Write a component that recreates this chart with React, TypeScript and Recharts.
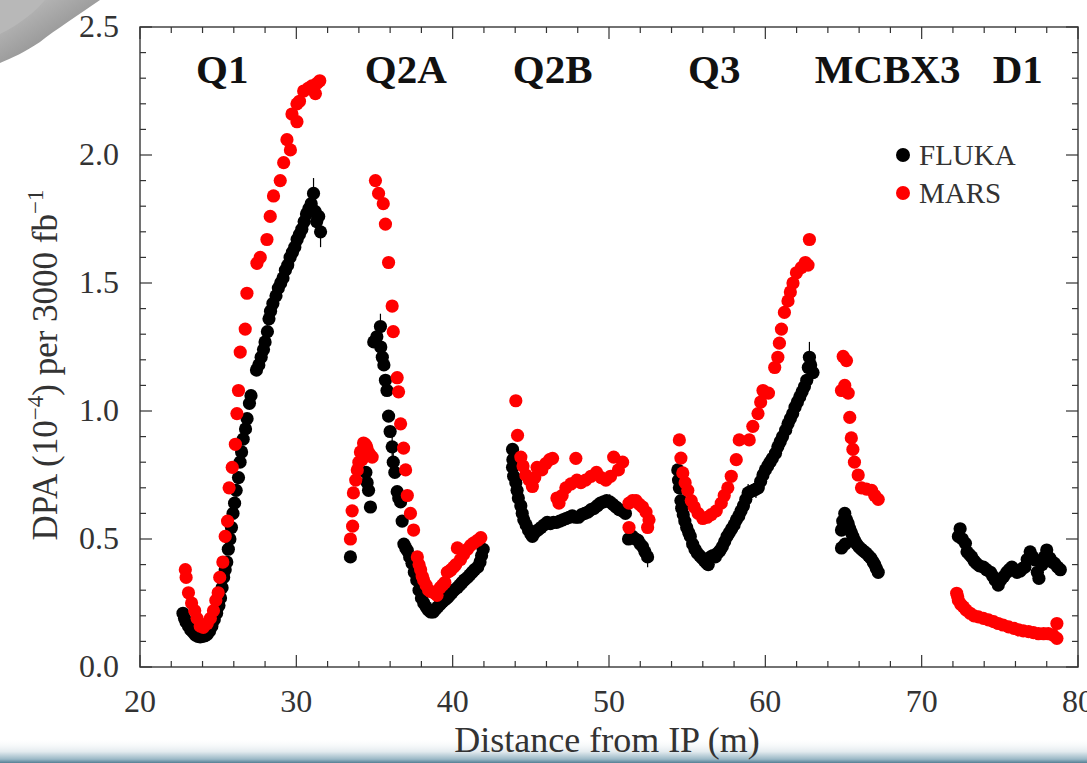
import React from 'react';
import {
  ScatterChart,
  Scatter,
  XAxis,
  YAxis,
  ReferenceArea,
  ReferenceDot,
  ErrorBar,
  Legend,
} from 'recharts';

// DPA along the triplet, [distance from IP (m), DPA (1e-4) per 3000 fb^-1]
const flukaQ1 = [
  [22.75, 0.21], [22.85, 0.19], [22.95, 0.175], [23.1, 0.16], [23.25, 0.145], [23.4, 0.135],
  [23.55, 0.125], [23.7, 0.12], [23.85, 0.118], [24.0, 0.12], [24.15, 0.122], [24.3, 0.128],
  [24.45, 0.14], [24.6, 0.16], [24.75, 0.185], [24.9, 0.21], [25.05, 0.24], [25.15, 0.27],
  [25.25, 0.31], [25.35, 0.35], [25.45, 0.38], [25.55, 0.41], [25.65, 0.46], [25.75, 0.5],
  [25.85, 0.545], [25.95, 0.6], [26.05, 0.64], [26.15, 0.69], [26.3, 0.74], [26.4, 0.8],
  [26.5, 0.84], [26.6, 0.89], [26.75, 0.93], [26.85, 0.97], [27.0, 1.03], [27.1, 1.06],
  [27.45, 1.16], [27.6, 1.18], [27.75, 1.21], [27.9, 1.24], [28.0, 1.27], [28.15, 1.31],
  [28.25, 1.36], [28.35, 1.39], [28.5, 1.42], [28.7, 1.45], [28.85, 1.48], [29.0, 1.5],
  [29.15, 1.52], [29.3, 1.55], [29.45, 1.57], [29.6, 1.6], [29.75, 1.62], [29.9, 1.64],
  [30.05, 1.67], [30.2, 1.69], [30.35, 1.71], [30.5, 1.74], [30.65, 1.77], [30.8, 1.79],
  [30.95, 1.81], [31.1, 1.85], [31.2, 1.78], [31.3, 1.74], [31.43, 1.76], [31.55, 1.7],
];

const flukaQ2A = [
  [33.46, 0.43], [34.45, 0.76], [34.53, 0.72], [34.62, 0.69], [34.74, 0.625],
  [34.95, 1.27], [35.15, 1.29], [35.38, 1.33], [35.4, 1.25], [35.5, 1.21], [35.6, 1.18],
  [35.7, 1.12], [35.8, 1.08], [35.9, 0.98], [36.0, 0.92], [36.13, 0.86], [36.2, 0.8],
  [36.3, 0.76], [36.45, 0.685], [36.55, 0.66], [36.67, 0.645], [36.77, 0.57], [36.88, 0.48],
  [37.0, 0.465], [37.1, 0.455], [37.25, 0.43], [37.4, 0.405], [37.55, 0.37], [37.7, 0.34],
  [37.85, 0.3], [38.0, 0.27], [38.15, 0.25], [38.3, 0.235], [38.45, 0.222], [38.6, 0.215],
  [38.75, 0.215], [38.9, 0.225], [39.05, 0.235], [39.2, 0.245], [39.35, 0.255], [39.5, 0.262],
  [39.65, 0.27], [39.8, 0.28], [39.95, 0.29], [40.1, 0.3], [40.3, 0.31], [40.45, 0.32],
  [40.6, 0.33], [40.75, 0.34], [40.95, 0.35], [41.1, 0.36], [41.25, 0.37], [41.4, 0.38],
  [41.6, 0.39], [41.75, 0.41], [41.85, 0.435], [41.95, 0.46],
];

const flukaQ2B = [
  [43.83, 0.85], [43.85, 0.81], [43.83, 0.78], [43.9, 0.745], [44.04, 0.72], [44.12, 0.69],
  [44.2, 0.66], [44.36, 0.63], [44.45, 0.6], [44.55, 0.575], [44.7, 0.555], [44.85, 0.535],
  [45.0, 0.52], [45.1, 0.51], [45.25, 0.525], [45.45, 0.535], [45.65, 0.545], [45.85, 0.555],
  [46.05, 0.565], [46.25, 0.56], [46.45, 0.565], [46.65, 0.565], [46.85, 0.57], [47.05, 0.575],
  [47.25, 0.58], [47.45, 0.585], [47.65, 0.59], [47.85, 0.585], [48.05, 0.585], [48.25, 0.595],
  [48.45, 0.6], [48.65, 0.605], [48.85, 0.615], [49.05, 0.62], [49.25, 0.63], [49.45, 0.64],
  [49.65, 0.645], [49.85, 0.65], [50.05, 0.645], [50.25, 0.635], [50.45, 0.625], [50.65, 0.615],
  [50.85, 0.61], [51.05, 0.6], [51.25, 0.5], [51.5, 0.51], [51.7, 0.5], [51.85, 0.495],
  [52.0, 0.48], [52.15, 0.47], [52.3, 0.45], [52.47, 0.43],
];

const flukaQ3 = [
  [54.4, 0.77], [54.45, 0.73], [54.5, 0.7], [54.6, 0.65], [54.65, 0.62], [54.75, 0.595],
  [54.85, 0.57], [54.97, 0.545], [55.1, 0.525], [55.2, 0.51], [55.35, 0.48], [55.5, 0.46],
  [55.65, 0.445], [55.8, 0.435], [55.95, 0.425], [56.1, 0.415], [56.25, 0.405], [56.35, 0.4],
  [56.5, 0.43], [56.65, 0.435], [56.8, 0.43], [56.95, 0.445], [57.1, 0.455], [57.25, 0.47],
  [57.4, 0.49], [57.55, 0.51], [57.7, 0.525], [57.85, 0.54], [58.0, 0.555], [58.15, 0.575],
  [58.3, 0.59], [58.45, 0.61], [58.6, 0.63], [58.75, 0.655], [58.9, 0.68], [59.05, 0.685],
  [59.25, 0.69], [59.4, 0.695], [59.55, 0.7], [59.7, 0.725], [59.85, 0.75], [60.0, 0.77],
  [60.15, 0.785], [60.3, 0.8], [60.45, 0.815], [60.65, 0.835], [60.8, 0.86], [60.95, 0.88],
  [61.1, 0.9], [61.3, 0.925], [61.45, 0.95], [61.6, 0.97], [61.75, 0.99], [61.9, 1.015],
  [62.05, 1.035], [62.2, 1.055], [62.35, 1.075], [62.5, 1.095], [62.65, 1.12], [62.75, 1.17],
  [62.82, 1.21], [62.9, 1.18], [63.05, 1.15],
];

const flukaMCBX3 = [
  [64.87, 0.465], [64.87, 0.535], [64.95, 0.57], [65.08, 0.6], [65.1, 0.48], [65.2, 0.575],
  [65.3, 0.56], [65.4, 0.54], [65.5, 0.525], [65.6, 0.51], [65.7, 0.495], [65.85, 0.48],
  [66.0, 0.468], [66.15, 0.46], [66.3, 0.452], [66.45, 0.445], [66.6, 0.435], [66.75, 0.425],
  [66.9, 0.41], [67.0, 0.4], [67.1, 0.385], [67.22, 0.37],
];

const flukaD1 = [
  [72.35, 0.51], [72.46, 0.54], [72.6, 0.5], [72.8, 0.483], [72.9, 0.45], [73.05, 0.44],
  [73.2, 0.43], [73.35, 0.415], [73.5, 0.405], [73.7, 0.395], [73.95, 0.39], [74.15, 0.38],
  [74.4, 0.37], [74.55, 0.355], [74.7, 0.34], [74.9, 0.32], [75.05, 0.34], [75.24, 0.353],
  [75.45, 0.37], [75.6, 0.38], [75.77, 0.39], [75.95, 0.38], [76.1, 0.37], [76.3, 0.375],
  [76.45, 0.385], [76.6, 0.39], [76.75, 0.42], [76.94, 0.45], [77.1, 0.43], [77.26, 0.418],
  [77.4, 0.37], [77.5, 0.346], [77.7, 0.4], [77.85, 0.43], [78.0, 0.457], [78.2, 0.425],
  [78.35, 0.41], [78.5, 0.405], [78.7, 0.39], [78.87, 0.38],
];

// [distance, DPA, statistical error] for the FLUKA bins with visible error bars
const flukaErrors = [
  [31.1, 1.85, 0.06], [31.55, 1.7, 0.06], [35.38, 1.33, 0.05], [36.13, 0.86, 0.04],
  [36.2, 0.8, 0.04], [50.05, 0.645, 0.03], [52.47, 0.43, 0.04], [58.9, 0.68, 0.035],
  [59.4, 0.695, 0.035], [62.82, 1.21, 0.06], [47.45, 0.585, 0.025],
];

const marsQ1 = [
  [22.9, 0.38], [22.95, 0.35], [23.1, 0.29], [23.3, 0.25], [23.5, 0.22], [23.65, 0.19],
  [23.85, 0.16], [24.05, 0.155], [24.3, 0.17], [24.5, 0.19], [24.7, 0.22], [24.85, 0.26],
  [25.0, 0.29], [25.1, 0.35], [25.3, 0.41], [25.45, 0.51], [25.6, 0.57], [25.7, 0.7],
  [25.9, 0.78], [26.1, 0.87], [26.2, 0.99], [26.3, 1.08], [26.41, 1.23], [26.73, 1.32],
  [26.84, 1.46], [27.48, 1.577], [27.69, 1.6], [28.12, 1.67], [28.33, 1.76], [28.54, 1.84],
  [28.97, 1.9], [29.19, 1.97], [29.4, 2.06], [29.62, 2.02], [29.72, 2.16], [30.04, 2.13],
  [30.04, 2.2], [30.2, 2.21], [30.47, 2.25], [30.75, 2.26], [31.0, 2.27], [31.22, 2.24],
  [31.32, 2.28], [31.5, 2.29],
];

const marsQ2A = [
  [33.46, 0.5], [33.57, 0.61], [33.6, 0.55], [33.65, 0.68], [33.8, 0.73], [33.9, 0.77],
  [34.0, 0.8], [34.1, 0.84], [34.2, 0.81], [34.3, 0.875], [34.4, 0.87], [34.5, 0.86],
  [34.6, 0.84], [34.7, 0.83], [34.85, 0.82], [35.06, 1.9], [35.26, 1.85], [35.56, 1.81],
  [35.7, 1.73], [35.9, 1.58], [36.13, 1.41], [36.2, 1.31], [36.45, 1.13], [36.54, 1.075],
  [36.67, 0.95], [36.86, 0.855], [36.99, 0.77], [37.1, 0.67], [37.3, 0.6], [37.5, 0.535],
  [37.74, 0.43], [37.85, 0.4], [37.95, 0.38], [38.05, 0.355], [38.14, 0.34], [38.3, 0.32],
  [38.46, 0.3], [38.6, 0.295], [38.8, 0.29], [39.0, 0.28], [39.2, 0.31], [39.35, 0.32],
  [39.5, 0.33], [39.66, 0.37], [39.8, 0.375], [39.9, 0.38], [40.06, 0.39], [40.2, 0.4],
  [40.3, 0.465], [40.5, 0.42], [40.7, 0.44], [40.94, 0.46], [41.15, 0.475], [41.35, 0.485],
  [41.6, 0.495], [41.8, 0.505],
];

const marsQ2B = [
  [44.04, 1.04], [44.15, 0.905], [44.36, 0.82], [44.5, 0.785], [44.68, 0.75], [44.9, 0.73],
  [45.1, 0.705], [45.25, 0.74], [45.4, 0.78], [45.7, 0.77], [45.96, 0.795], [46.2, 0.81],
  [46.39, 0.815], [46.67, 0.66], [46.8, 0.64], [47.0, 0.67], [47.24, 0.7], [47.56, 0.715],
  [47.88, 0.815], [47.95, 0.73], [48.2, 0.72], [48.5, 0.73], [48.85, 0.745], [49.2, 0.76],
  [49.5, 0.74], [49.8, 0.73], [50.1, 0.745], [50.3, 0.82], [50.6, 0.77], [50.87, 0.8],
  [51.28, 0.64], [51.28, 0.545], [51.5, 0.65], [51.73, 0.65], [51.95, 0.635], [52.15, 0.625],
  [52.37, 0.605], [52.47, 0.545], [52.56, 0.575],
];

const marsQ3 = [
  [54.5, 0.887], [54.6, 0.816], [54.72, 0.758], [54.87, 0.72], [55.04, 0.69], [55.26, 0.65],
  [55.45, 0.625], [55.7, 0.6], [56.0, 0.58], [56.28, 0.585], [56.54, 0.595], [56.86, 0.61],
  [57.18, 0.64], [57.37, 0.67], [57.6, 0.7], [57.82, 0.745], [58.14, 0.81], [58.33, 0.887],
  [58.97, 0.887], [59.2, 0.94], [59.53, 0.99], [59.7, 1.035], [59.85, 1.08], [60.2, 1.07],
  [60.6, 1.17], [60.8, 1.21], [60.9, 1.265], [61.03, 1.32], [61.22, 1.385], [61.45, 1.43],
  [61.6, 1.465], [61.77, 1.5], [61.99, 1.54], [62.3, 1.56], [62.56, 1.58], [62.73, 1.57],
  [62.82, 1.67],
];

const marsMCBX3 = [
  [64.98, 1.213], [65.19, 1.197], [65.08, 1.1], [64.87, 1.08], [65.3, 1.07], [65.4, 0.975],
  [65.5, 0.895], [65.6, 0.85], [65.7, 0.8], [65.94, 0.75], [66.15, 0.7], [66.47, 0.695],
  [66.8, 0.69], [67.0, 0.67], [67.22, 0.655],
];

const marsD1 = [
  [72.24, 0.288], [72.3, 0.275], [72.35, 0.26], [72.5, 0.245], [72.67, 0.235], [72.85, 0.222],
  [73.1, 0.21], [73.35, 0.2], [73.63, 0.196], [73.95, 0.19], [74.27, 0.184], [74.6, 0.177],
  [74.9, 0.17], [75.2, 0.164], [75.56, 0.157], [75.9, 0.151], [76.2, 0.145], [76.5, 0.141],
  [76.84, 0.138], [77.15, 0.134], [77.47, 0.13], [77.8, 0.13], [78.1, 0.13], [78.4, 0.125],
  [78.65, 0.112], [78.65, 0.17],
];

const xTicks = [20, 22, 24, 26, 28, 30, 32, 34, 36, 38, 40, 42, 44, 46, 48, 50, 52, 54, 56, 58, 60, 62, 64, 66, 68, 70, 72, 74, 76, 78, 80];
const yTicks = [0, 0.1, 0.2, 0.3, 0.4, 0.5, 0.6, 0.7, 0.8, 0.9, 1.0, 1.1, 1.2, 1.3, 1.4, 1.5, 1.6, 1.7, 1.8, 1.9, 2.0, 2.1, 2.2, 2.3, 2.4, 2.5];

const magnetNames = ['Q1', 'Q2A', 'Q2B', 'Q3', 'MCBX3', 'D1'];
const magnetCenters = [25.26, 37.0, 46.4, 56.73, 67.82, 76.15];
const MAGNET_LABEL_Y = 2.34;

const FONT = '"Liberation Serif", "Times New Roman", serif';
const TEXT = '#333';
const PLOT = { left: 140, right: 1078, top: 27, bottom: 667 };

const toPoints = (rows: number[][]) => rows.map(([x, y]) => ({ x, y }));

const fluka = toPoints([...flukaQ1, ...flukaQ2A, ...flukaQ2B, ...flukaQ3, ...flukaMCBX3, ...flukaD1]);
const mars = toPoints([...marsQ1, ...marsQ2A, ...marsQ2B, ...marsQ3, ...marsMCBX3, ...marsD1]);
const flukaErr = flukaErrors.map(([x, y, err]) => ({ x, y, err }));

const renderDot = (props: any) => <circle cx={props.cx} cy={props.cy} r={6.6} fill={props.fill} />;

// ticks point inward on all four sides; only majors carry a label
function XTick({ x, payload }: any) {
  const v = payload.value;
  const major = v % 10 === 0;
  const len = major ? 12 : 6;
  return (
    <g stroke={TEXT} strokeWidth={1.2}>
      <line x1={x} x2={x} y1={PLOT.bottom} y2={PLOT.bottom - len} />
      <line x1={x} x2={x} y1={PLOT.top} y2={PLOT.top + len} />
      {major && (
        <text x={x} y={PLOT.bottom + 45} textAnchor="middle" stroke="none" fill={TEXT} fontSize={32} fontFamily={FONT}>
          {v}
        </text>
      )}
    </g>
  );
}

function YTick({ y, payload }: any) {
  const v = payload.value;
  const major = Math.round(v * 10) % 5 === 0;
  const len = major ? 12 : 6;
  return (
    <g stroke={TEXT} strokeWidth={1.2}>
      <line x1={PLOT.left} x2={PLOT.left + len} y1={y} y2={y} />
      <line x1={PLOT.right} x2={PLOT.right - len} y1={y} y2={y} />
      {major && (
        <text x={119} y={y + 10} textAnchor="end" stroke="none" fill={TEXT} fontSize={32} fontFamily={FONT}>
          {v.toFixed(1)}
        </text>
      )}
    </g>
  );
}

const XTitle = () => (
  <text x={607} y={752} textAnchor="middle" fontSize={36} fill={TEXT} fontFamily={FONT}>
    Distance from IP (m)
  </text>
);

const YTitle = () => (
  <text transform="translate(57,365) rotate(-90)" textAnchor="middle" fontSize={35} fill={TEXT} fontFamily={FONT}>
    DPA (10
    <tspan dy={-14} fontSize={23}>−4</tspan>
    <tspan dy={14}>) per 3000 fb</tspan>
    <tspan dy={-14} fontSize={23}>−1</tspan>
  </text>
);

const LegendBox = ({ payload }: any) => (
  <div style={{ fontFamily: FONT, color: TEXT }}>
    {(payload || [])
      .filter((p: any) => p.value && p.type !== 'none')
      .map((p: any) => (
        <div key={p.value} style={{ display: 'flex', alignItems: 'center', height: 38 }}>
          <span style={{ width: 14, height: 14, borderRadius: '50%', background: p.color, display: 'inline-block' }} />
          <span style={{ marginLeft: 9, fontSize: 29, lineHeight: '29px' }}>{p.value}</span>
        </div>
      ))}
  </div>
);

export default function App() {
  return (
    <div style={{ position: 'absolute', left: 0, top: 0, width: 1087, height: 763, background: '#fff', overflow: 'hidden' }}>
      <svg width={1087} height={763} style={{ position: 'absolute', left: 0, top: 0 }}>
        <defs>
          <linearGradient id="swoosh" x1="0" y1="0" x2="1" y2="1">
            <stop offset="0%" stopColor="#c4c4c4" />
            <stop offset="55%" stopColor="#9a9a9a" />
            <stop offset="100%" stopColor="#7c7c7c" />
          </linearGradient>
          <linearGradient id="band" x1="0" y1="0" x2="0" y2="1">
            <stop offset="0%" stopColor="#ffffff" stopOpacity={0} />
            <stop offset="55%" stopColor="#e2eaee" />
            <stop offset="85%" stopColor="#9ab8c6" />
            <stop offset="100%" stopColor="#557f94" />
          </linearGradient>
        </defs>
        <path d="M0 0 L100 0 C80 14 55 30 40 42 C25 52 12 58 0 63 Z" fill="url(#swoosh)" />
        <path d="M0 0 L45 0 C35 12 20 24 0 34 Z" fill="#b8b8b8" />
        <rect x={0} y={738} width={1087} height={25} fill="url(#band)" />
      </svg>
      <ScatterChart width={1087} height={763} margin={{ top: 27, right: 9, bottom: 0, left: 0 }}>
        <XAxis
          type="number"
          dataKey="x"
          domain={[20, 80]}
          ticks={xTicks}
          interval={0}
          height={96}
          axisLine={false}
          tickLine={false}
          tick={<XTick />}
          label={<XTitle />}
        />
        <YAxis
          type="number"
          dataKey="y"
          domain={[0, 2.5]}
          ticks={yTicks}
          interval={0}
          width={140}
          axisLine={false}
          tickLine={false}
          tick={<YTick />}
          label={<YTitle />}
        />
        <ReferenceArea x1={20} x2={80} y1={0} y2={2.5} fill="none" stroke="#444" strokeWidth={1.5} />
        <Scatter data={flukaErr} fill="#000" legendType="none" shape={() => <g />} isAnimationActive={false}>
          <ErrorBar dataKey="err" direction="y" width={0} stroke="#000" strokeWidth={1.2} isAnimationActive={false} />
        </Scatter>
        <Scatter name="FLUKA" data={fluka} fill="#000000" shape={renderDot} isAnimationActive={false} />
        <Scatter name="MARS" data={mars} fill="#ff0000" shape={renderDot} isAnimationActive={false} />
        {magnetNames.map((name, i) => (
          <ReferenceDot
            key={name}
            x={magnetCenters[i]}
            y={MAGNET_LABEL_Y}
            r={0}
            fill="none"
            stroke="none"
            label={{ value: name, position: 'center', fontSize: 41, fontWeight: 700, fill: '#111', fontFamily: FONT }}
          />
        ))}
        <Legend
          layout="vertical"
          align="center"
          verticalAlign="middle"
          wrapperStyle={{ left: 896, top: 136, width: 180 }}
          content={<LegendBox />}
        />
      </ScatterChart>
    </div>
  );
}
